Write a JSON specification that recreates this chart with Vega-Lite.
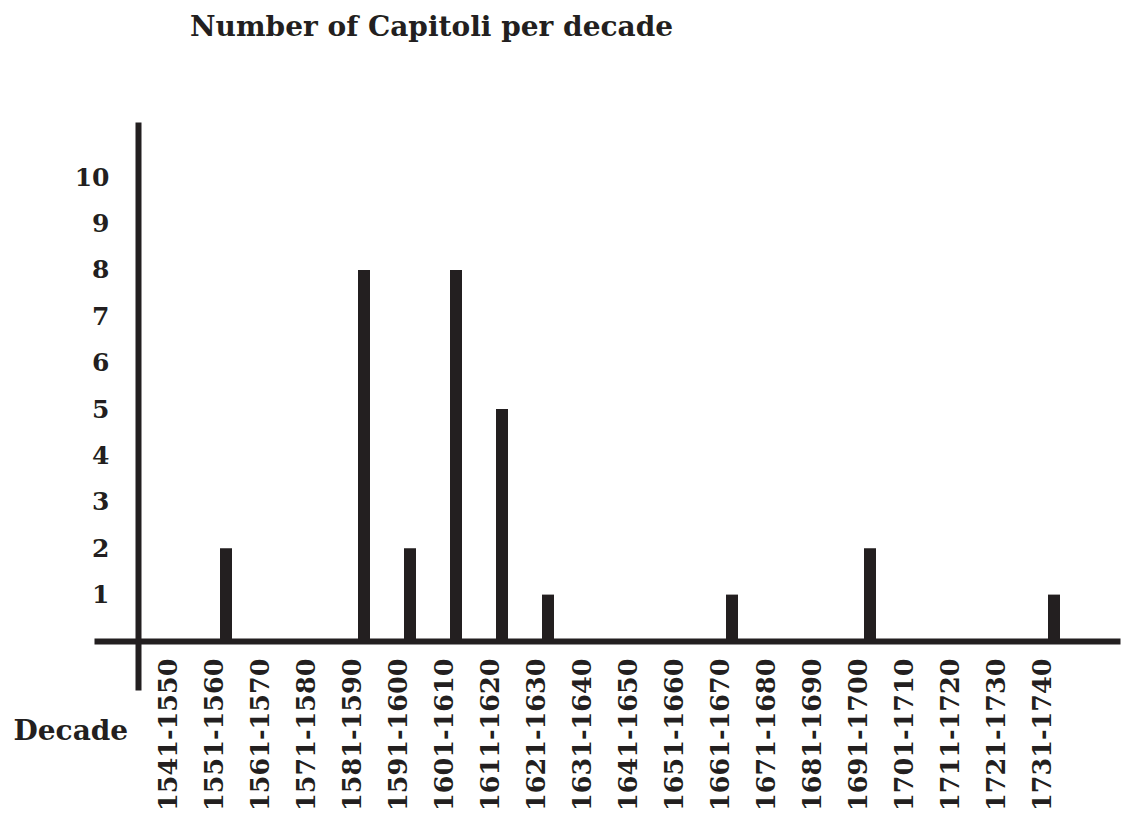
{
  "$schema": "https://vega.github.io/schema/vega-lite/v6.json",
  "autosize": "none",
  "width": 1026,
  "height": 568,
  "padding": {"left": 94, "top": 122, "right": 4, "bottom": 129},
  "background": "white",
  "title": {
    "text": "Number of Capitoli per decade",
    "anchor": "start",
    "frame": "group",
    "dx": 96,
    "offset": 80,
    "font": "DejaVu Serif",
    "fontSize": 28,
    "fontWeight": "bold",
    "color": "#231f20"
  },
  "data": {
    "values": [
      {"decade": "1541-1550", "count": 0},
      {"decade": "1551-1560", "count": 2},
      {"decade": "1561-1570", "count": 0},
      {"decade": "1571-1580", "count": 0},
      {"decade": "1581-1590", "count": 8},
      {"decade": "1591-1600", "count": 2},
      {"decade": "1601-1610", "count": 8},
      {"decade": "1611-1620", "count": 5},
      {"decade": "1621-1630", "count": 1},
      {"decade": "1631-1640", "count": 0},
      {"decade": "1641-1650", "count": 0},
      {"decade": "1651-1660", "count": 0},
      {"decade": "1661-1670", "count": 1},
      {"decade": "1671-1680", "count": 0},
      {"decade": "1681-1690", "count": 0},
      {"decade": "1691-1700", "count": 2},
      {"decade": "1701-1710", "count": 0},
      {"decade": "1711-1720", "count": 0},
      {"decade": "1721-1730", "count": 0},
      {"decade": "1731-1740", "count": 1}
    ]
  },
  "mark": {"type": "bar", "width": 12, "color": "#231f20"},
  "encoding": {
    "x": {
      "field": "decade",
      "type": "ordinal",
      "sort": null,
      "scale": {"paddingInner": 0, "paddingOuter": 1, "align": 0.594, "round": true},
      "axis": {
        "title": "Decade",
        "labelAngle": -90,
        "labelFont": "DejaVu Serif",
        "labelFontSize": 25.5,
        "labelFontWeight": "bold",
        "labelColor": "#231f20",
        "labelPadding": 17,
        "labelOffset": -11,
        "labelOverlap": false,
        "ticks": false,
        "grid": false,
        "domainWidth": 6,
        "domainColor": "#231f20",
        "offset": -49,
        "titleFont": "DejaVu Serif",
        "titleFontSize": 28,
        "titleFontWeight": "bold",
        "titleColor": "#231f20",
        "titleAngle": 0,
        "titleAlign": "left",
        "titleBaseline": "middle",
        "titleX": -81,
        "titleY": 90
      }
    },
    "y": {
      "field": "count",
      "type": "quantitative",
      "stack": null,
      "scale": {"domain": [-1.057, 11.19], "nice": false, "zero": false},
      "axis": {
        "title": null,
        "values": [1, 2, 3, 4, 5, 6, 7, 8, 9, 10],
        "labelFont": "DejaVu Serif",
        "labelFontSize": 25,
        "labelFontWeight": "bold",
        "labelColor": "#231f20",
        "labelPadding": 29,
        "ticks": false,
        "grid": false,
        "domainWidth": 6,
        "domainColor": "#231f20",
        "offset": -44
      }
    },
    "y2": {"datum": 0}
  },
  "config": {"view": {"stroke": null}}
}
